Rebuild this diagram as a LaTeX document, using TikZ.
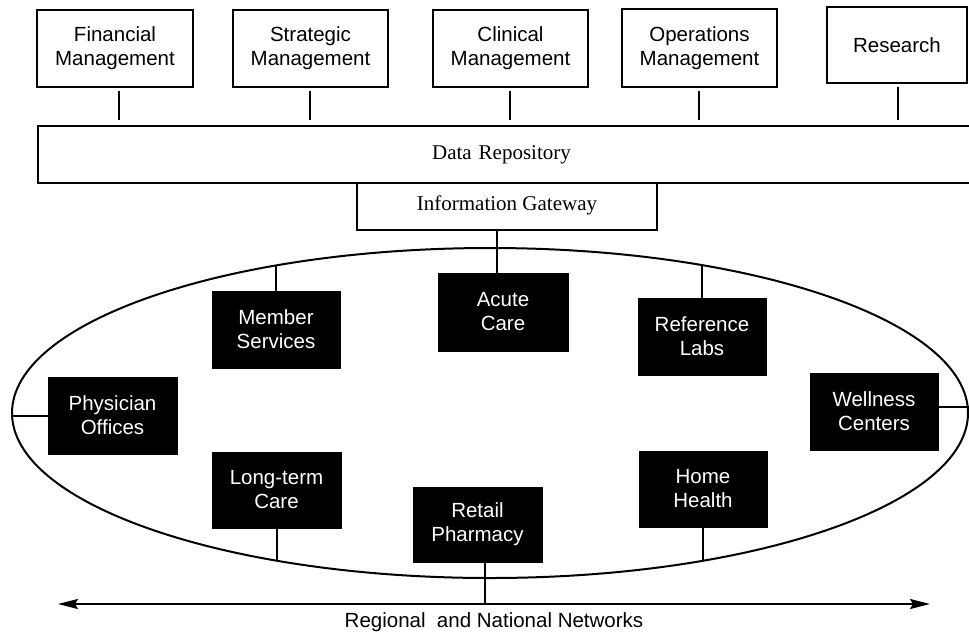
\documentclass[tikz,border=0pt]{standalone}
\usepackage{fontspec}
\setmainfont{Liberation Serif}
\newfontfamily\arialf{Liberation Sans}
\usetikzlibrary{arrows.meta,shapes.geometric}
\tikzset{
  topbox/.style={draw, line width=2pt, minimum height=77pt, align=center, inner sep=0pt,
    font=\arialf\fontsize{20.5}{24}\selectfont},
  serifbox/.style={draw, line width=2pt, inner sep=0pt, font=\fontsize{21}{24}\selectfont},
  blackbox/.style={fill=black, draw=black, text=white, minimum width=128pt, minimum height=77pt,
    align=center, inner sep=0pt, font=\arialf\fontsize{20.5}{24}\selectfont},
  link/.style={line width=2pt},
  uplink/.style={line width=2pt, shorten <=2.5pt, shorten >=5pt},
}
\begin{document}
\begin{tikzpicture}[x=1pt,y=-1pt]
\useasboundingbox (0,0) rectangle (969,633);
% top boxes
\node[topbox, minimum width=156pt] (fin) at (115,48.5) {Financial\\Management};
\node[topbox, minimum width=155pt] (str) at (310.5,48.5) {Strategic\\Management};
\node[topbox, minimum width=155pt] (cli) at (510.5,48.5) {Clinical\\Management};
\node[topbox, minimum width=155pt, minimum height=78pt] (ope) at (699.5,48) {Operations\\Management};
\node[topbox, minimum width=140pt, minimum height=76pt] (res) at (897,45) {Research};
% repository and gateway
\node[serifbox, minimum width=937pt, minimum height=57pt, text width=937pt, align=center] (repo) at (506.5,154.5) {\hspace*{-10pt}Data Repository};
\node[serifbox, minimum width=300pt, minimum height=47pt, align=center] (gw) at (507,206.5) {\raisebox{6pt}{Information Gateway}};
% connectors top
\draw[uplink] (fin.south -| 119,0) -- (repo.north -| 119,0);
\draw[uplink] (str.south -| 310,0) -- (repo.north -| 310,0);
\draw[uplink] (cli.south -| 510,0) -- (repo.north -| 510,0);
\draw[uplink] (ope.south -| 699,0) -- (repo.north -| 699,0);
\draw[uplink] (res.south -| 898,0) -- (repo.north -| 898,0);
% ellipse
\node[draw, ellipse, line width=2pt, minimum width=956pt, minimum height=330pt, inner sep=0pt] (ell) at (490,413) {};
% black boxes
\node[blackbox, minimum width=129pt] (phys) at (112.5,415.5) {Physician\\Offices};
\node[blackbox] (mem) at (276,329.5) {Member\\Services};
\node[blackbox, minimum width=130pt, minimum height=78pt] (acu) at (503,312) {Acute\\Care};
\node[blackbox] (ref) at (702,336.5) {Reference\\Labs};
\node[blackbox] (well) at (874,411.5) {Wellness\\Centers};
\node[blackbox, minimum width=129pt, minimum height=76pt] (ltc) at (276.5,490) {Long-term\\Care};
\node[blackbox, minimum width=129pt, minimum height=75pt] (ret) at (477.5,524.5) {Retail\\Pharmacy};
\node[blackbox, minimum height=76pt] (home) at (703,489) {Home\\Health};
% points on the ellipse
\coordinate (eMem) at (276,265.6);
\coordinate (eRef) at (702,265.3);
\coordinate (eLtc) at (276.5,560.7);
\coordinate (eHome) at (703,560.7);
\coordinate (gwc) at (497,230);
% connectors inside
\draw[link] (gwc) -- (gwc |- acu.north);
\draw[link] (mem.north) -- (eMem);
\draw[link] (ref.north) -- (eRef);
\draw[link] (ltc.south) -- (eLtc);
\draw[link] (home.south) -- (eHome);
\draw[link] (phys.west) -- (phys.west -| ell.west);
\draw[link] ([yshift=5pt]well.east) -- ([yshift=5pt]well.east -| ell.east);
% network arrow
\coordinate (aL) at (58,604);
\coordinate (aR) at (930,604);
\draw[link, {Stealth[length=20pt,width=10pt,inset=3pt]}-{Stealth[length=20pt,width=10pt,inset=3pt]}] (aL) -- (aR);
\draw[link] ([xshift=7.5pt]ret.south) -- ([xshift=7.5pt]ret.south |- aL);
\node[font=\arialf\fontsize{20.5}{24}\selectfont, inner sep=0pt] (net) at (494,622) {Regional\ \ and National Networks};
\end{tikzpicture}
\end{document}
